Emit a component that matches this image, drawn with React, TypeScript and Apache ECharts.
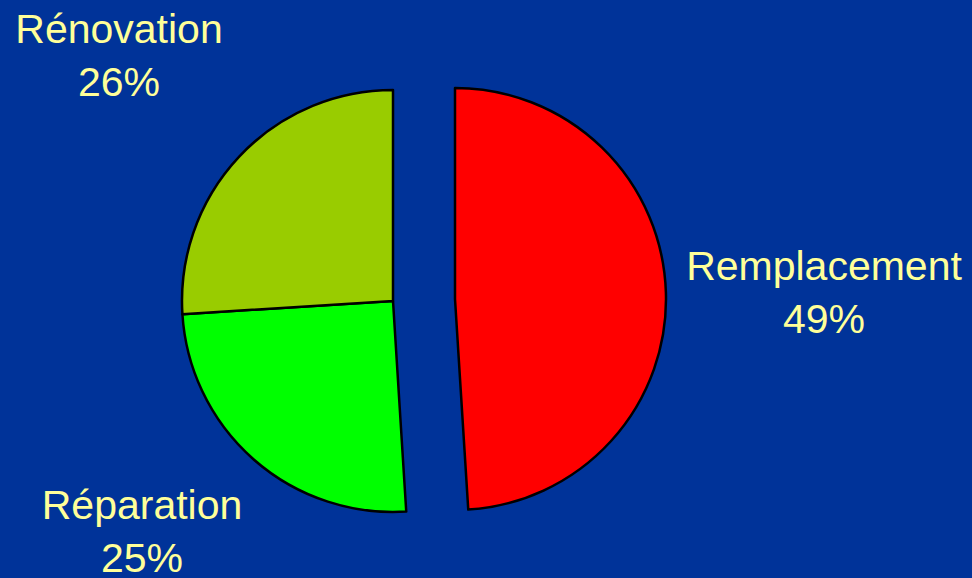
import React, { useEffect, useRef } from "react";
import * as echarts from "echarts";

const categories = ["Remplacement", "Réparation", "Rénovation"];
const values = [49, 25, 26];
const explodedIndex = 0;

const sliceColors = ["#FF0000", "#00FF00", "#99CC00"];
const labelPositions = [
  { x: 824, y: 292 },
  { x: 142, y: 531 },
  { x: 119, y: 55 },
];

const labelStyle = {
  show: true,
  position: "center",
  formatter: "{b}\n{d}%",
  color: "#FFFF99",
  fontFamily: "'Liberation Sans', Arial, sans-serif",
  fontSize: 41,
  lineHeight: 53,
  align: "center",
};

function buildSeries(center: number[], showExploded: boolean) {
  return {
    type: "pie",
    center,
    radius: 211,
    startAngle: 90,
    clockwise: true,
    selectedMode: false,
    silent: true,
    avoidLabelOverlap: false,
    emphasis: { disabled: true },
    label: labelStyle,
    labelLine: { show: false },
    labelLayout: (params: any) => {
      const p = labelPositions[params.dataIndex];
      return { x: p.x, y: p.y, align: "center", verticalAlign: "middle" };
    },
    data: categories.map((name, i) => {
      const visible = (i === explodedIndex) === showExploded;
      return {
        name,
        value: values[i],
        itemStyle: visible
          ? { color: sliceColors[i], borderColor: "#000000", borderWidth: 2.5 }
          : { color: "rgba(0,0,0,0)", borderWidth: 0 },
        label: { show: visible },
      };
    }),
  };
}

export default function App() {
  const ref = useRef<HTMLDivElement>(null);
  useEffect(() => {
    if (!ref.current) return;
    const chart = echarts.init(ref.current, undefined, { renderer: "svg" });
    chart.setOption({
      animation: false,
      backgroundColor: "#003399",
      series: [buildSeries([393, 301], false), buildSeries([455, 299], true)],
    });
    return () => chart.dispose();
  }, []);
  return (
    <div
      ref={ref}
      style={{ position: "fixed", left: 0, top: 0, width: 972, height: 578 }}
    />
  );
}
